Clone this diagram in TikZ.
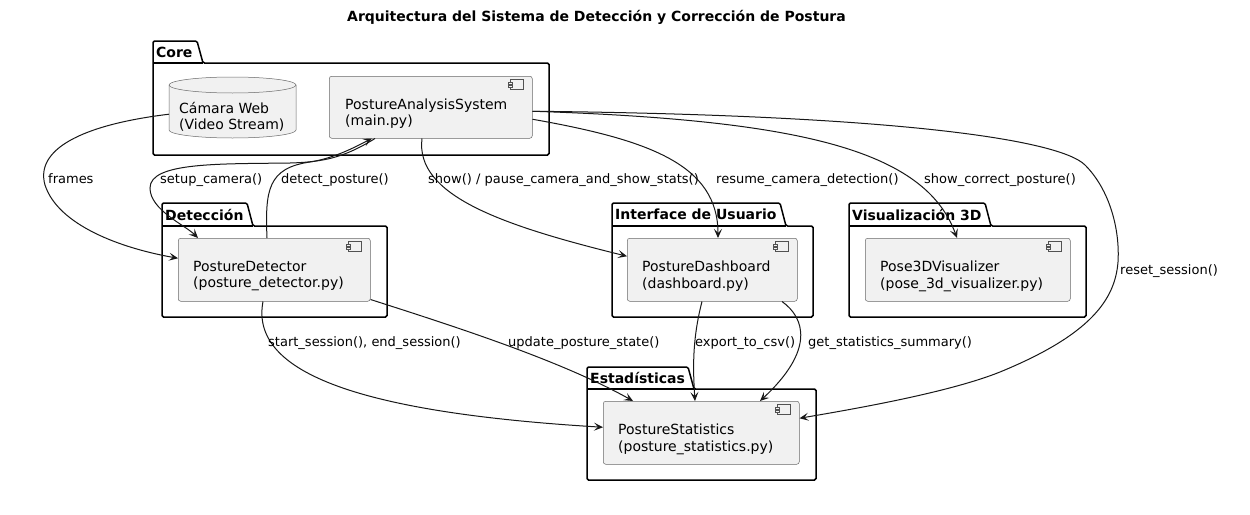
\documentclass[tikz,border=0pt]{standalone}
\usepackage{fontspec}
\setmainfont{DejaVu Sans}
\usetikzlibrary{arrows.meta,calc}
\definecolor{boxfill}{HTML}{F1F1F1}
\definecolor{ink}{HTML}{181818}
\newcommand\drawpkg[8]{%
  \draw[pkg] (#2,#3) -- (#4,#3) -- (#4+6,#5) -- (#6,#5) -- (#6,#7) -- (#2,#7) -- cycle;
  \draw[line width=1.5pt] (#2,#5) -- (#4+6,#5);
  \node[pkglabel] (#1) at (#2+3,{(#3+#5)/2}) {#8};
}
\newcommand\compicon[1]{%
  \draw[icon] ($(#1.north east)+(-22,3.5)$) rectangle ++(13,9.5);
  \draw[icon] ($(#1.north east)+(-24,6)$) rectangle ++(4,2);
  \draw[icon] ($(#1.north east)+(-24,9.5)$) rectangle ++(4,2);
}
\begin{document}
\begin{tikzpicture}[x=1pt,y=-1pt,
  comp/.style={draw=ink!65, line width=0.5pt, fill=boxfill, rounded corners=2.5pt, anchor=north west, inner sep=0pt},
  comptext/.style={anchor=west, align=left, font=\fontsize{14}{16.5}\selectfont, inner sep=0pt},
  pkg/.style={draw=black, line width=1.5pt, fill=white, rounded corners=1.5pt},
  pkglabel/.style={anchor=west, font=\fontsize{14}{16}\selectfont\bfseries, inner sep=0pt},
  conn/.style={draw=ink, line width=1pt, -{Stealth[length=9pt,width=8pt,inset=4pt]}},
  lbl/.style={anchor=west, font=\fontsize{13}{15}\selectfont, inner sep=0pt},
  icon/.style={draw=ink!75, line width=0.5pt, fill=boxfill}
]
\useasboundingbox (0,0) rectangle (1250,514);
\fill[white] (0,0) rectangle (1250,514);

\node[font=\fontsize{14}{16}\selectfont\bfseries] (title) at (596.5,17) {Arquitectura del Sistema de Detección y Corrección de Postura};

% packages
\drawpkg{pcore}{153}{41}{197}{63}{549}{155}{Core}
\drawpkg{pdet}{162}{203}{247}{226}{387}{317}{Detección}
\drawpkg{pui}{612}{203}{780}{226}{813}{317}{Interface de Usuario}
\drawpkg{pviz}{849}{203}{985}{226}{1086}{317}{Visualización 3D}
\drawpkg{pstat}{587}{367}{688}{389}{816}{480}{Estadísticas}

% camera (database cylinder)
\path[fill=boxfill, draw=ink!65, line width=0.5pt] (169,85) -- (169,130)
  arc[start angle=180, end angle=360, x radius=63.5pt, y radius=8pt] -- (296,85)
  arc[start angle=0, end angle=180, x radius=63.5pt, y radius=8pt] -- cycle;
\draw[draw=ink!65, line width=0.5pt] (169,85) arc[start angle=180, end angle=360, x radius=63.5pt, y radius=8pt];
\node[minimum width=127pt, minimum height=61pt, inner sep=0pt, anchor=north west] (cam) at (169,77) {};
\node[comptext] (camtext) at ($(cam.west)+(10,9)$) {Cámara Web\\(Video Stream)};

% components
\node[comp, minimum width=203pt, minimum height=62pt] (pas) at (329,76) {};
\node[comptext] (pastext) at ($(pas.west)+(16,6.5)$) {PostureAnalysisSystem\\(main.py)};
\compicon{pas}

\node[comp, minimum width=192pt, minimum height=63pt] (det) at (178,238) {};
\node[comptext] (dettext) at ($(det.west)+(15,6.5)$) {PostureDetector\\(posture\_detector.py)};
\compicon{det}

\node[comp, minimum width=170pt, minimum height=63pt] (dash) at (627,238) {};
\node[comptext] (dashtext) at ($(dash.west)+(15,6.5)$) {PostureDashboard\\(dashboard.py)};
\compicon{dash}

\node[comp, minimum width=205pt, minimum height=63pt] (pose) at (865,238) {};
\node[comptext] (posetext) at ($(pose.west)+(15,6.5)$) {Pose3DVisualizer\\(pose\_3d\_visualizer.py)};
\compicon{pose}

\node[comp, minimum width=196pt, minimum height=63pt] (stats) at (603,401) {};
\node[comptext] (statstext) at ($(stats.west)+(15,6.5)$) {PostureStatistics\\(posture\_statistics.py)};
\compicon{stats}

% connectors
\draw[conn] ($(cam.west)+(0,6.5)$) .. controls (80,125) and (35,150) .. (45,185)
  .. controls (58,225) and (120,248) .. ($(det.west)+(0,-11.5)$);
\draw[conn] ($(pas.south west)+(46,0)$) .. controls (345,157) and (325,162) .. (290,163)
  .. controls (220,164) and (150,162) .. (150,188)
  .. controls (150,210) and (185,225) .. ($(det.north west)+(20,0)$);
\draw[conn] ($(det.north west)+(89,0)$) .. controls (265,190) and (268,168) .. (310,162)
  .. controls (335,158) and (355,147) .. ($(pas.south west)+(43,0)$);
\draw[conn] ($(pas.south west)+(93,0)$) .. controls (415,195) and (500,225) .. ($(dash.west)+(0,-13.5)$);
\draw[conn] ($(pas.east)+(0,12)$) .. controls (650,140) and (718,165) .. ($(dash.north west)+(91,0)$);
\draw[conn] ($(pas.east)+(0,4)$) .. controls (800,120) and (925,150) .. ($(pose.north west)+(92,0)$);
\draw[conn] ($(pas.east)+(0,4)$) .. controls (900,115) and (1060,140) .. (1085,165)
  .. controls (1110,190) and (1120,230) .. (1118,262)
  .. controls (1115,300) and (1090,335) .. (1000,372)
  .. controls (950,392) and (860,408) .. ($(stats.east)+(0,-14.5)$);
\draw[conn] ($(det.south west)+(85,0)$) .. controls (250,370) and (350,412) .. ($(stats.west)+(0,-5.5)$);
\draw[conn] ($(det.south east)+(0,-2)$) .. controls (450,325) and (560,360) .. ($(stats.north west)+(30,0)$);
\draw[conn] ($(dash.south west)+(75,0)$) .. controls (692,340) and (693,370) .. ($(stats.north west)+(92,0)$);
\draw[conn] ($(dash.south west)+(155,0)$) .. controls (805,318) and (815,350) .. ($(stats.north west)+(157,0)$);

% labels
\node[lbl] (l1) at (48,179) {frames};
\node[lbl] (l2) at (160,180) {setup\_camera()};
\node[lbl] (l3) at (281,180) {detect\_posture()};
\node[lbl] (l4) at (428,180) {show() / pause\_camera\_and\_show\_stats()};
\node[lbl] (l5) at (716,180) {resume\_camera\_detection()};
\node[lbl] (l6) at (924,180) {show\_correct\_posture()};
\node[lbl] (l7) at (1120,271) {reset\_session()};
\node[lbl] (l8) at (268,343) {start\_session(), end\_session()};
\node[lbl] (l9) at (508,343) {update\_posture\_state()};
\node[lbl] (l10) at (695,343) {export\_to\_csv()};
\node[lbl] (l11) at (808,343) {get\_statistics\_summary()};
\end{tikzpicture}
\end{document}
